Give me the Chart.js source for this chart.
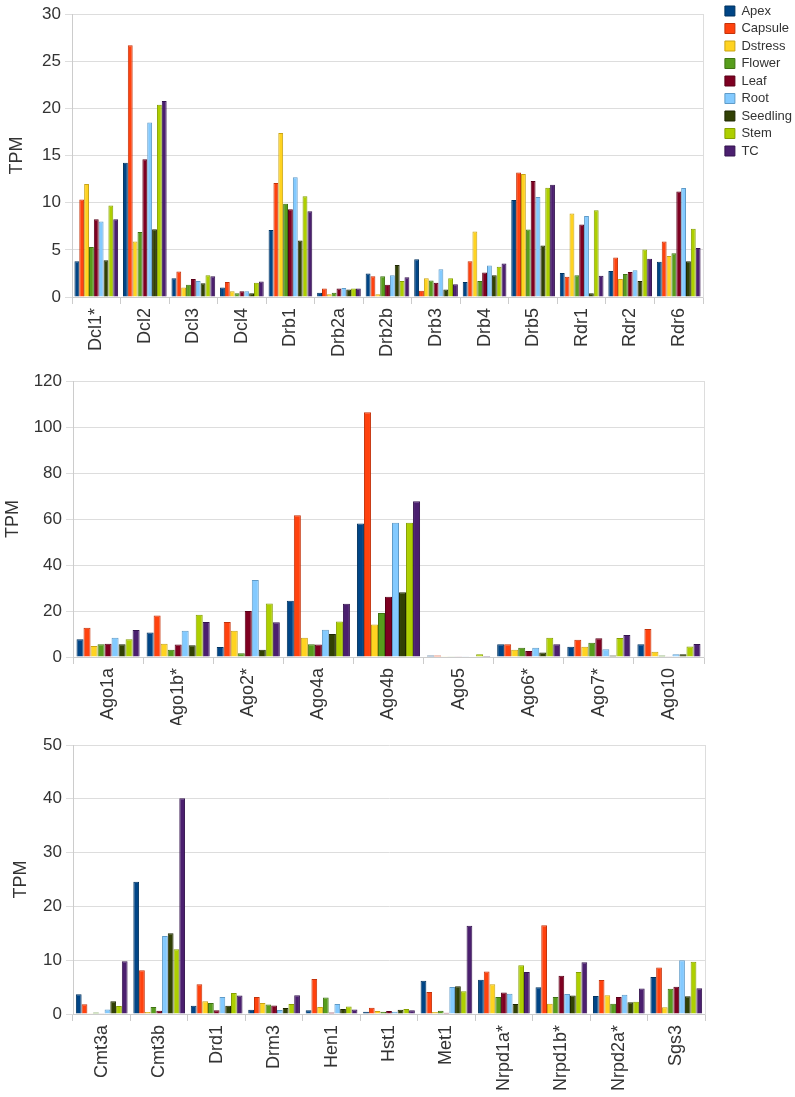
<!DOCTYPE html>
<html>
<head>
<meta charset="utf-8">
<script src="https://cdn.jsdelivr.net/npm/chart.js@4.4.0/dist/chart.umd.min.js"></script>
<style>
  body { margin: 0; background: #fff; width: 795px; height: 1097px; position: relative; overflow: hidden; }
  canvas { position: absolute; left: 0; }
</style>
</head>
<body>
<canvas id="c1" width="802" height="365" style="top:0"></canvas>
<canvas id="c2" width="795" height="375" style="top:350px"></canvas>
<canvas id="c3" width="795" height="390" style="top:707px"></canvas>
<script>
const tissues = ['Apex', 'Capsule', 'Dstress', 'Flower', 'Leaf', 'Root', 'Seedling', 'Stem', 'TC'];
const fillColors = ['#004586', '#ff420e', '#ffd320', '#579d1c', '#7e0021', '#83caff', '#314004', '#aecf00', '#4b1f6f'];
const edgeColors = ['#00335f', '#c4320a', '#c9a415', '#3f7312', '#5a0018', '#5f9bc8', '#1e2702', '#86a000', '#35154f'];

// panel 1: dicers, DRBs, RDRs
const genes1 = ['Dcl1*', 'Dcl2', 'Dcl3', 'Dcl4', 'Drb1', 'Drb2a', 'Drb2b', 'Drb3', 'Drb4', 'Drb5', 'Rdr1', 'Rdr2', 'Rdr6'];
const apex1     = [3.8, 14.25, 2.0, 1.0, 7.1, 0.45, 2.5, 4.0, 1.6, 10.3, 2.55, 2.75, 3.75];
const capsule1  = [10.35, 26.7, 2.7, 1.6, 12.1, 0.9, 2.2, 0.65, 3.8, 13.2, 2.15, 4.2, 5.9];
const dstress1  = [12.0, 5.9, 1.0, 0.6, 17.4, 0.3, 0.3, 2.0, 6.95, 13.05, 8.85, 1.9, 4.35];
const flower1   = [5.3, 6.9, 1.3, 0.4, 9.9, 0.45, 2.2, 1.75, 1.7, 7.15, 2.3, 2.45, 4.65];
const leaf1     = [8.25, 14.6, 1.9, 0.6, 9.3, 0.9, 1.3, 1.5, 2.6, 12.3, 7.7, 2.65, 11.2];
const root1     = [8.0, 18.5, 1.7, 0.6, 12.7, 0.95, 2.3, 2.95, 3.35, 10.6, 8.6, 2.85, 11.55];
const seedling1 = [3.9, 7.2, 1.45, 0.4, 6.0, 0.8, 3.4, 0.8, 2.3, 5.45, 0.4, 1.7, 3.8];
const stem1     = [9.7, 20.4, 2.3, 1.5, 10.7, 0.9, 1.7, 2.0, 3.2, 11.6, 9.2, 5.05, 7.25];
const tc1       = [8.25, 20.8, 2.2, 1.65, 9.1, 0.9, 2.1, 1.35, 3.55, 11.9, 2.25, 4.05, 5.2];

// panel 2: argonautes
const genes2 = ['Ago1a', 'Ago1b*', 'Ago2*', 'Ago4a', 'Ago4b', 'Ago5', 'Ago6*', 'Ago7*', 'Ago10'];
const apex2     = [7.7, 10.7, 4.35, 24.5, 58.0, 0.6, 5.5, 4.5, 5.5];
const capsule2  = [12.75, 18.0, 15.2, 61.6, 106.4, 0.7, 5.5, 7.5, 12.2];
const dstress2  = [4.8, 5.8, 11.45, 8.4, 14.1, 0.1, 3.2, 4.5, 2.3];
const flower2   = [5.5, 3.2, 1.6, 5.5, 19.1, 0.1, 4.05, 6.2, 0.6];
const leaf2     = [5.8, 5.4, 20.0, 5.4, 26.2, 0.1, 2.6, 8.1, 0.3];
const root2     = [8.4, 11.45, 33.5, 11.9, 58.4, 0.3, 4.05, 3.35, 1.15];
const seedling2 = [5.5, 5.1, 3.2, 10.0, 28.1, 0.2, 2.0, 0.7, 1.15];
const stem2     = [7.7, 18.4, 23.3, 15.4, 58.4, 1.2, 8.4, 8.25, 4.6];
const tc2       = [11.7, 15.2, 15.1, 23.2, 67.7, 0.45, 5.5, 9.55, 5.65];

// panel 3: methylation and others
const genes3 = ['Cmt3a', 'Cmt3b', 'Drd1', 'Drm3', 'Hen1', 'Hst1', 'Met1', 'Nrpd1a*', 'Nrpd1b*', 'Nrpd2a*', 'Sgs3'];
const apex3     = [3.65, 24.6, 1.55, 0.8, 0.7, 0.4, 6.2, 6.35, 4.95, 3.35, 6.9];
const capsule3  = [1.8, 8.15, 5.55, 3.15, 6.5, 1.15, 4.1, 7.9, 16.5, 6.3, 8.65];
const dstress3  = [0.05, 0.35, 2.35, 2.05, 1.3, 0.55, 0.35, 5.55, 1.9, 3.5, 1.25];
const flower3   = [0.3, 1.3, 2.05, 1.75, 3.05, 0.4, 0.6, 3.15, 3.15, 1.9, 4.7];
const leaf3     = [0.05, 0.6, 0.7, 1.6, 0.3, 0.55, 0.25, 4.0, 7.1, 3.15, 5.05];
const root3     = [0.85, 14.5, 3.15, 0.75, 1.85, 0.4, 5.0, 3.75, 3.7, 3.6, 10.0];
const seedling3 = [2.35, 15.0, 1.55, 1.1, 0.95, 0.8, 5.15, 1.85, 3.45, 2.2, 3.3];
const stem3     = [1.5, 12.05, 3.9, 1.85, 1.4, 0.95, 4.25, 9.05, 7.8, 2.3, 9.7];
const tc3       = [9.8, 40.1, 3.45, 3.5, 0.85, 0.7, 16.4, 7.8, 9.6, 4.75, 4.8];

const font = '"Liberation Sans", Arial, sans-serif';
const textColor = '#333';

function makeChart(id, genes, series, cfg) {
  const datasets = series.map((vals, i) => ({
    label: tissues[i],
    data: vals,
    backgroundColor: fillColors[i],
    borderColor: edgeColors[i],
    borderWidth: 1,
    categoryPercentage: 0.9,
    barPercentage: 1.0
  }));
  return new Chart(document.getElementById(id), {
    type: 'bar',
    data: { labels: genes, datasets: datasets },
    options: {
      responsive: false,
      animation: false,
      layout: { padding: 0 },
      plugins: {
        tooltip: { enabled: false },
        legend: cfg.legend ? {
          display: true,
          position: 'right',
          align: 'start',
          labels: { boxWidth: 10, boxHeight: 10, padding: 4.5, color: textColor, font: { family: font, size: 13 } }
        } : { display: false }
      },
      scales: {
        x: {
          grid: { offset: true, drawOnChartArea: false, drawTicks: true, tickLength: 7, color: '#ccc' },
          border: { color: '#ccc' },
          ticks: { minRotation: 90, maxRotation: 90, autoSkip: false, padding: 4, color: textColor, font: { family: font, size: 18 } },
          afterFit: s => { s.height = cfg.xHeight; }
        },
        // empty top strip that only reserves room above the plot
        xTop: {
          type: 'category',
          position: 'top',
          grid: { display: false },
          border: { display: false },
          ticks: { display: false },
          afterFit: s => { s.height = cfg.top; }
        },
        y: {
          min: 0, max: cfg.max,
          ticks: { stepSize: cfg.step, padding: 4, color: textColor, font: { family: font, size: 17 } },
          grid: { color: '#ddd', tickLength: 7 },
          border: { color: '#ccc' },
          title: { display: true, text: 'TPM', color: textColor, font: { family: font, size: 18 }, padding: cfg.titlePad },
          afterFit: s => { s.width = cfg.yWidth; }
        },
        y2: {
          position: 'right',
          min: 0, max: cfg.max,
          grid: { drawOnChartArea: false, drawTicks: false },
          border: { color: '#ddd' },
          ticks: { display: false },
          afterFit: s => {
            const lg = s.chart.legend;
            const used = cfg.legend && lg ? lg.width : 0;
            s.width = Math.max(0, s.chart.width - cfg.right - used);
          }
        }
      }
    }
  });
}

makeChart('c1', genes1, [apex1, capsule1, dstress1, flower1, leaf1, root1, seedling1, stem1, tc1],
  { max: 30, step: 5, top: 12, xHeight: 68, yWidth: 72, right: 703, legend: true, titlePad: { top: 6, bottom: 4 } });
makeChart('c2', genes2, [apex2, capsule2, dstress2, flower2, leaf2, root2, seedling2, stem2, tc2],
  { max: 120, step: 20, top: 31, xHeight: 68, yWidth: 73, right: 704, legend: false, titlePad: { top: 2, bottom: 4 } });
makeChart('c3', genes3, [apex3, capsule3, dstress3, flower3, leaf3, root3, seedling3, stem3, tc3],
  { max: 50, step: 10, top: 38, xHeight: 83, yWidth: 73, right: 705, legend: false, titlePad: { top: 10, bottom: 4 } });
</script>
</body>
</html>
